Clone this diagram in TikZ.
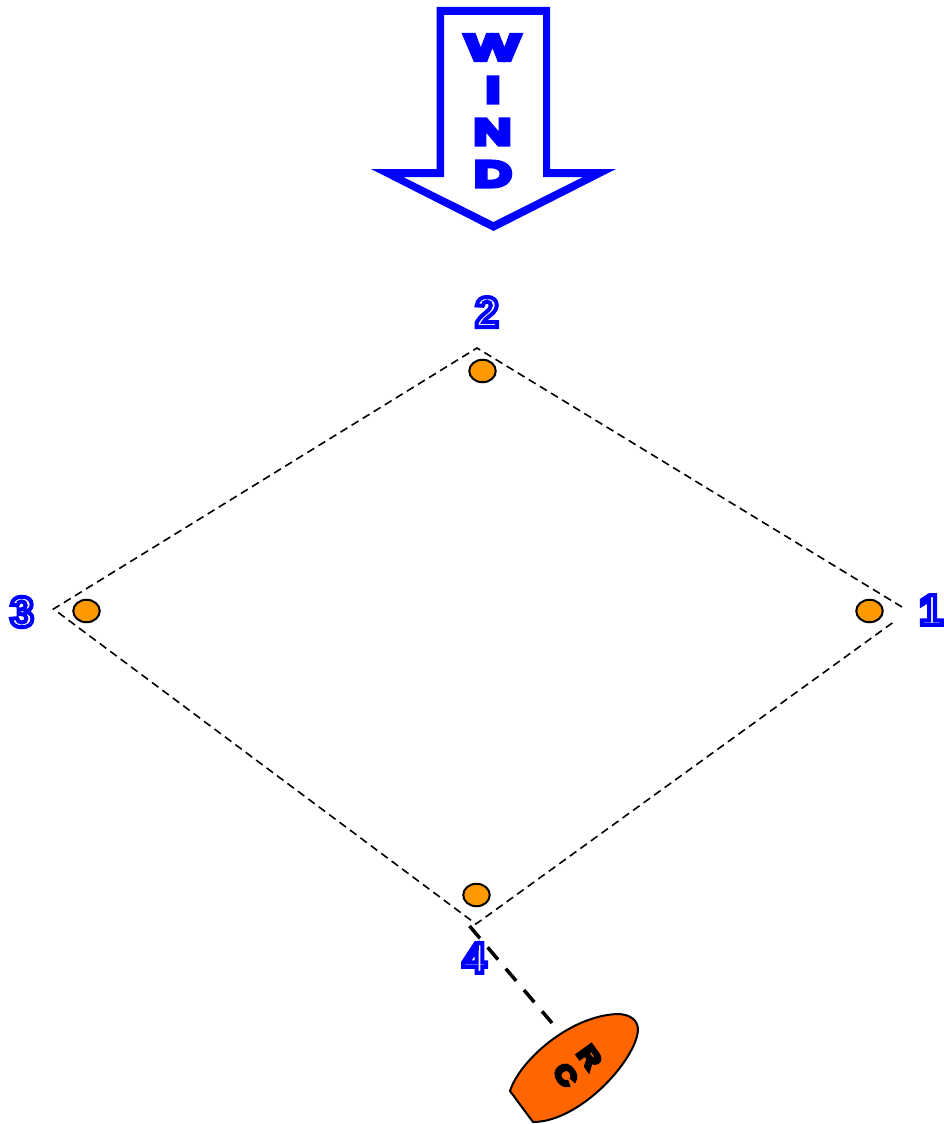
\documentclass[tikz,border=0pt]{standalone}
\usepackage{fontspec}
\usetikzlibrary{shapes.geometric}
\newfontfamily\heavyfont[FakeStretch=1.5]{Liberation Sans Bold}
\newfontfamily\heavywide[FakeStretch=1.65]{Liberation Sans Bold}
\newfontfamily\rcfont[FakeStretch=1.2]{Liberation Sans Bold}
\newfontfamily\numfont{Liberation Sans Bold}
\newcommand{\outlined}[1]{\special{pdf:code q 2 Tr 4 w 0 0 1 RG 1 1 1 rg}{\numfont\fontsize{43}{43}\selectfont #1}\special{pdf:code Q}}
\newcommand{\windglyph}[1]{\special{pdf:code q 2 Tr 5 w 0 0 1 RG 0 0 1 rg 0 J}#1\special{pdf:code Q}}
\newcommand{\rcglyph}[1]{\special{pdf:code q 2 Tr 3.5 w 0 0 0 RG 0 0 0 rg}#1\special{pdf:code Q}}
\definecolor{windblue}{RGB}{0,0,255}
\definecolor{markorange}{RGB}{255,153,0}
\definecolor{boatorange}{RGB}{255,102,0}
\tikzset{
  course/.style={draw=black,line width=1.6pt,dash pattern=on 8pt off 5pt},
  ride/.style={draw=black,line width=3.5pt,dash pattern=on 16pt off 12pt},
  buoy/.style={ellipse,draw=black,fill=markorange,line width=2pt,minimum width=26.5pt,minimum height=22.5pt,inner sep=0pt},
  windletter/.style={inner sep=0pt,font=\heavyfont\fontsize{35}{35}\selectfont},
  widewind/.style={inner sep=0pt,font=\heavywide\fontsize{35}{35}\selectfont},
  rcletter/.style={inner sep=0pt,font=\rcfont\fontsize{25}{25}\selectfont},
  legnum/.style={inner sep=0pt}
}
\begin{document}
\begin{tikzpicture}[x=1pt,y=-1pt]
\useasboundingbox (0,0) rectangle (944,1124);
% wind arrow
\fill[windblue,even odd rule]
  (436.5,7) -- (550,7) -- (550,169) -- (616,169) -- (493.5,231) -- (371,169) -- (436.5,169) -- cycle
  (444,15) -- (543,15) -- (543,177) -- (583,177) -- (493.5,222) -- (403,177) -- (444,177) -- cycle;
\node[widewind] (w) at (492.5,47.5) {\windglyph{W}};
\node[windletter] (i) at (493,90) {\windglyph{I}};
\node[windletter] (n) at (492.5,132) {\windglyph{N}};
\node[windletter] (d) at (493,174) {\windglyph{D}};
% course
\coordinate (left) at (53.5,609);
\coordinate (top) at (477,348);
\coordinate (rightup) at (902,607);
\coordinate (rightlow) at (895,621);
\coordinate (bottom) at (476,924);
\draw[course] (rightup) -- (top) -- (left) -- (bottom) -- (rightlow);
% marks
\node[buoy] (m2) at (482.5,371) {};
\node[buoy] (m3) at (86.5,611) {};
\node[buoy] (m1) at (869.5,611) {};
\node[buoy] (m4) at (476.5,895) {};
% numbers
\node[legnum] (n1) at (931,610) {\outlined{1}};
\node[legnum] (n2) at (487,312) {\outlined{2}};
\node[legnum] (n3) at (22,612) {\outlined{3}};
\node[legnum] (n4) at (474.5,958) {\outlined{4}};
% boat
\coordinate (moor) at (469.5,926);
\coordinate (bowline) at (552,1023);
\draw[ride] (moor) -- (bowline);
\draw[fill=boatorange,draw=black,line width=2pt]
  (510,1091) .. controls (520,1060) and (570,1016) .. (617,1014)
  .. controls (630,1014) and (638,1020) .. (638,1030)
  .. controls (636,1060) and (580,1122) .. (533,1122) -- cycle;
\node[rcletter,rotate=-54] (r) at (589.5,1057) {\rcglyph{R}};
\node[rcletter,rotate=-54] (c) at (565.5,1075) {\rcglyph{C}};
\end{tikzpicture}
\end{document}
